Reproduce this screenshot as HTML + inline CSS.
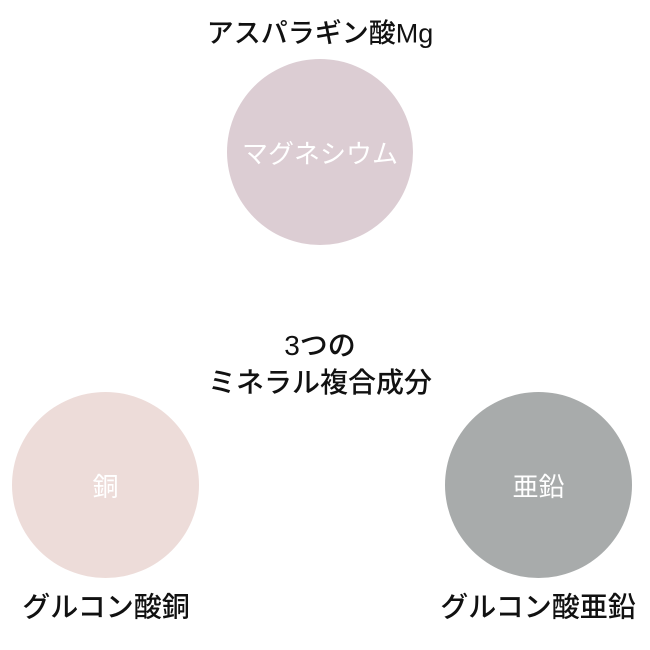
<!DOCTYPE html>
<html><head><meta charset="utf-8"><style>
html,body{margin:0;padding:0;background:#fff;}
body{width:650px;height:650px;position:relative;overflow:hidden;font-family:"Liberation Sans","Noto Sans CJK JP",sans-serif;}
.c{position:absolute;border-radius:50%;display:flex;align-items:center;justify-content:center;color:#fff;font-size:26px;}
.t{position:absolute;color:#111;font-size:28px;white-space:nowrap;transform:translate(-50%,-50%);text-align:center;line-height:37px;font-weight:500;}
</style></head><body>
<div class="t" style="left:320px;top:34px;font-size:27px;">アスパラギン酸Mg</div>
<div class="c" style="left:227px;top:59px;width:186px;height:186px;background:#dccdd3;">マグネシウム</div>
<div class="t" style="left:320px;top:364px;">3つの<br>ミネラル複合成分</div>
<div class="c" style="left:12px;top:392px;width:187px;height:186px;background:#eddcd9;">銅</div>
<div class="c" style="left:445px;top:392px;width:187px;height:186px;background:#a8abab;">亜鉛</div>
<div class="t" style="left:106px;top:607px;">グルコン酸銅</div>
<div class="t" style="left:538px;top:607px;">グルコン酸亜鉛</div>
</body></html>
